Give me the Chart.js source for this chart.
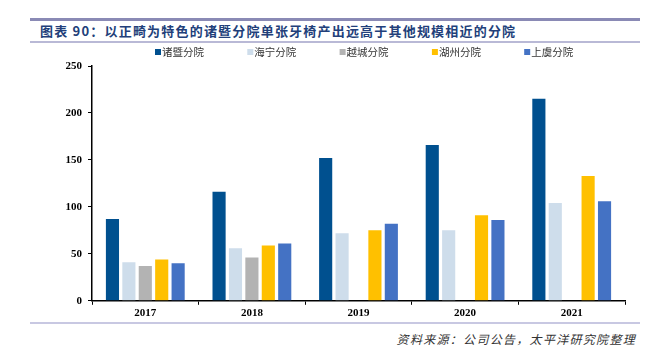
<!DOCTYPE html>
<html><head><meta charset="utf-8">
<script src="https://cdn.jsdelivr.net/npm/chart.js@4/dist/chart.umd.min.js"></script>
<style>
html,body{margin:0;padding:0;background:#fff;width:645px;height:360px;overflow:hidden;}
#topline{position:absolute;left:30px;top:18px;width:610px;height:3px;background:#8A8AB5;}
#title{position:absolute;left:40px;top:22px;font-family:"Noto Sans CJK SC";font-weight:bold;font-size:13px;letter-spacing:1.2px;color:#223F7A;white-space:nowrap;line-height:18px;}
#midline{position:absolute;left:30px;top:41px;width:610px;height:2px;background:#B9B9D6;}
#botline{position:absolute;left:30px;top:322px;width:610px;height:2px;background:#C8C8E2;}
#source{position:absolute;right:9px;top:330px;font-family:"Noto Sans CJK SC";font-style:italic;font-size:12px;color:#333;white-space:nowrap;letter-spacing:1.3px;}
#wrap{position:absolute;left:0;top:43px;width:645px;height:279px;}
</style></head>
<body>
<div id="topline"></div>
<div id="title">图表 90：以正畸为特色的诸暨分院单张牙椅产出远高于其他规模相近的分院</div>
<div id="midline"></div>
<div id="wrap"><canvas id="c"></canvas></div>
<div id="botline"></div>
<div id="source">资料来源：公司公告，太平洋研究院整理</div>
<script>
const years = ['2017','2018','2019','2020','2021'];
const seriesNames = ['诸暨分院','海宁分院','越城分院','湖州分院','上虞分院'];
const zhuji   = [87, 116, 152, 166, 215];
const haining = [41, 56, 72, 75, 104];
const yuecheng = [37, 46, null, null, null];
const huzhou  = [44, 59, 75, 91, 133];
const shangyu = [40, 61, 82, 86, 106];
const yTicks = [0, 50, 100, 150, 200, 250];
const colors = ['#00508F','#CEDDEB','#B3B3B3','#FFC000','#4472C4'];
const allData = [zhuji, haining, yuecheng, huzhou, shangyu];

const legendPlugin = {
  id: 'customLegend',
  afterDraw(chart) {
    const ctx = chart.ctx;
    const y = 9;
    const startX = 155, step = 92.3;
    ctx.save();
    ctx.font = '10.5px "Noto Sans CJK SC"';
    ctx.textBaseline = 'middle';
    ctx.textAlign = 'left';
    chart.data.datasets.forEach((ds, i) => {
      const x = startX + i * step;
      ctx.fillStyle = ds.backgroundColor;
      ctx.fillRect(x, y - 3, 6, 6);
      ctx.fillStyle = '#333';
      ctx.fillText(ds.label, x + 7, y + 0.5);
    });
    ctx.restore();
  }
};

new Chart(document.getElementById('c'), {
  type: 'bar',
  data: {
    labels: years,
    datasets: allData.map((d, i) => ({
      label: seriesNames[i], data: d, backgroundColor: colors[i],
      borderWidth: 0, categoryPercentage: 0.77, barPercentage: 0.8
    }))
  },
  plugins: [legendPlugin],
  options: {
    responsive: true, maintainAspectRatio: false, animation: false,
    layout: { padding: { left: 0, right: 20, top: 23, bottom: 0 } },
    plugins: { tooltip: { enabled: false }, legend: { display: false } },
    scales: {
      x: {
        grid: { display: true, drawOnChartArea: false, drawTicks: true, tickLength: 4, color: '#000', offset: true },
        border: { display: true, color: '#000', width: 1.5 },
        ticks: { color: '#000', font: { family: 'Liberation Serif', size: 11, weight: 'bold' }, padding: 2 }
      },
      y: {
        min: 0, max: 250,
        afterBuildTicks: (axis) => { axis.ticks = yTicks.map(v => ({ value: v })); },
        afterFit: (axis) => { axis.width = 92; },
        grid: { display: true, drawOnChartArea: false, drawTicks: true, tickLength: 4, color: '#000' },
        border: { display: true, color: '#000', width: 1.5 },
        ticks: { color: '#000', font: { family: 'Liberation Serif', size: 11, weight: 'bold' }, padding: 6 }
      }
    }
  }
});
</script>
</body></html>
